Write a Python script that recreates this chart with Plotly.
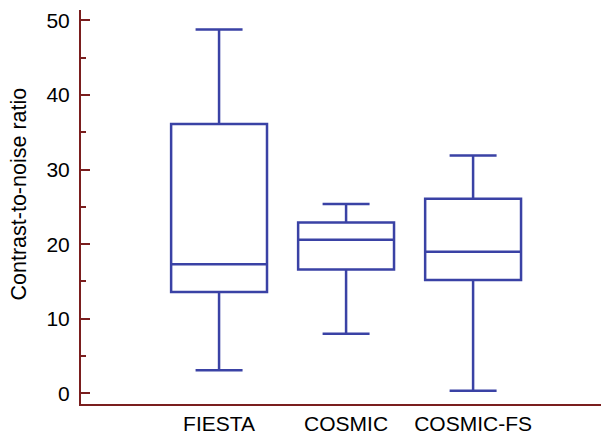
import plotly.graph_objects as go

categories = ["FIESTA", "COSMIC", "COSMIC-FS"]
lower_whisker = [3.1, 8.0, 0.35]
q1_values = [13.6, 16.6, 15.2]
median_values = [17.3, 20.6, 19.0]
q3_values = [36.1, 22.9, 26.1]
upper_whisker = [48.8, 25.4, 31.9]
y_ticks = [0, 10, 20, 30, 40, 50]
y_title = "Contrast-to-noise ratio"

box_color = "rgb(58,66,165)"
axis_color = "rgb(122,30,30)"

fig = go.Figure()
fig.add_trace(go.Box(
    x=categories,
    q1=q1_values,
    median=median_values,
    q3=q3_values,
    lowerfence=lower_whisker,
    upperfence=upper_whisker,
    line=dict(color=box_color, width=2.5),
    fillcolor="rgba(255,255,255,0)",
    width=0.755,
    whiskerwidth=0.49,
    boxpoints=False,
    showlegend=False,
    hoverinfo="skip",
))

# page body has an 8px default margin, so the figure is sized/offset to compensate
fig.update_layout(
    width=601, height=429,
    margin=dict(l=73, r=0, t=2, b=33),
    paper_bgcolor="white", plot_bgcolor="white",
    font=dict(family="Liberation Sans, Arial, sans-serif", color="black"),
    xaxis=dict(
        type="category",
        range=[-1.087, 3.07],
        automargin=False,
        showline=True, linecolor=axis_color, linewidth=2,
        showgrid=False, zeroline=False,
        ticks="", tickfont=dict(size=21),
    ),
    yaxis=dict(
        range=[-1.43, 51.4],
        automargin=False,
        tickvals=y_ticks,
        showline=True, linecolor=axis_color, linewidth=2,
        showgrid=False, zeroline=False,
        ticks="inside", ticklen=9, tickwidth=1.5, tickcolor=axis_color,
        minor=dict(dtick=5, ticks="inside", ticklen=5, tickwidth=1.5, tickcolor=axis_color),
        tickfont=dict(size=21),
        ticklabelstandoff=5,
    ),
    annotations=[dict(
        text=y_title, textangle=-90,
        xref="paper", yref="paper", x=-0.1165, y=0.533,
        xanchor="center", yanchor="middle", showarrow=False,
        font=dict(size=21.5, color="black"),
    )],
)

fig.write_html("out.html")
